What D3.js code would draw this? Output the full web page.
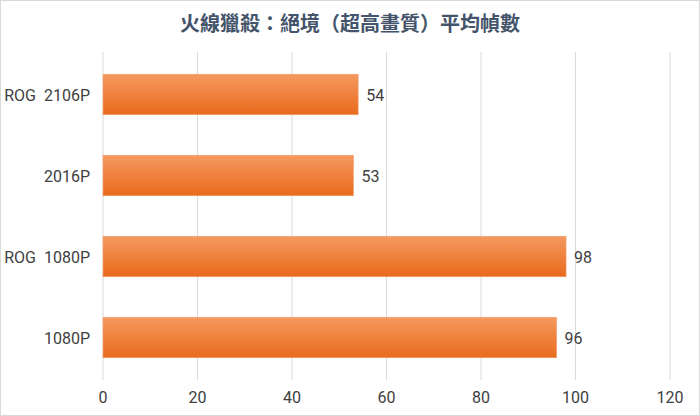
<!DOCTYPE html>
<html><head><meta charset="utf-8">
<script src="https://cdn.jsdelivr.net/npm/d3@7"></script>
<style>body{margin:0;background:#fff}svg{display:block}</style>
</head><body>
<script>
const title = "火線獵殺：絕境（超高畫質）平均幀數";
const categories = ["ROG 2106P","2016P","ROG 1080P","1080P"];
const values = [54,53,98,96];
const xTicks = [0,20,40,60,80,100,120];

const W=700,H=416;
const svg=d3.select("body").append("svg").attr("width",W).attr("height",H);
svg.append("rect").attr("x",0.5).attr("y",0.5).attr("width",W-1).attr("height",H-1).attr("fill","#fff").attr("stroke","#d9d9d9");
const defs=svg.append("defs");
const g=defs.append("linearGradient").attr("id","og").attr("x1",0).attr("y1",0).attr("x2",0).attr("y2",1);
g.append("stop").attr("offset","0%").attr("stop-color","#f5995f");
g.append("stop").attr("offset","100%").attr("stop-color","#e96a1c");

const x=d3.scaleLinear().domain([0,120]).range([103,670]);
const y=d3.scaleBand().domain(categories).range([54,378]).paddingInner(0.5).paddingOuter(0.25);

svg.append("text").attr("x",W/2).attr("y",31).attr("text-anchor","middle")
 .attr("font-family","Noto Sans CJK TC").attr("font-weight","bold").attr("font-size",20)
 .attr("fill","#44546a").text(title);

svg.selectAll(".grid").data(xTicks).join("line").attr("x1",d=>x(d)).attr("x2",d=>x(d))
 .attr("y1",52).attr("y2",380).attr("stroke","#d9d9d9").attr("stroke-width",1);

svg.selectAll(".bar").data(values).join("rect")
 .attr("x",x(0)).attr("y",(d,i)=>y(categories[i])).attr("width",d=>x(d)-x(0)).attr("height",y.bandwidth())
 .attr("fill","url(#og)").attr("stroke","#f0a070").attr("stroke-width",0.6);

const font="Roboto, sans-serif";
svg.selectAll(".vl").data(values).join("text")
 .attr("x",d=>x(d)+8).attr("y",(d,i)=>y(categories[i])+y.bandwidth()/2+6)
 .attr("font-family",font).attr("font-size",16).attr("fill","#404040").text(d=>d);

svg.selectAll(".cl").data(categories).join("text")
 .attr("x",90).attr("y",d=>y(d)+y.bandwidth()/2+6).attr("text-anchor","end")
 .attr("font-family",font).attr("font-size",16).attr("fill","#404040")
 .attr("xml:space","preserve").style("white-space","pre").text(d=>d.replace(" ","  "));

svg.selectAll(".xl").data(xTicks).join("text")
 .attr("x",d=>x(d)).attr("y",403).attr("text-anchor","middle")
 .attr("font-family",font).attr("font-size",16).attr("fill","#404040").text(d=>d);
</script>
</body></html>
